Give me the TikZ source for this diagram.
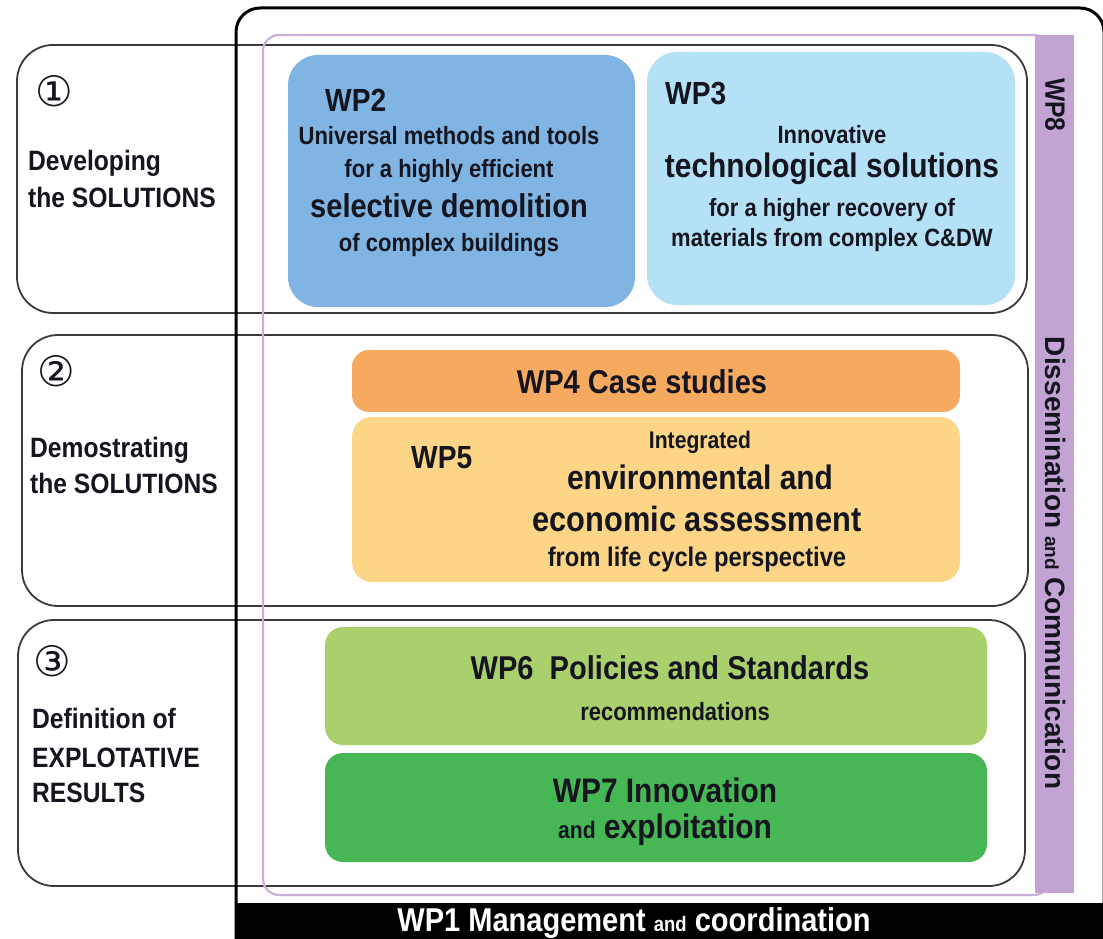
\documentclass[tikz,border=0pt]{standalone}
\usepackage{fontspec}
\setmainfont{Liberation Sans}[FakeStretch=0.88]
\newfontfamily\widefont{Liberation Sans}
\newfontfamily\circfont{DejaVu Sans}
\definecolor{wpB}{HTML}{80B4E3}
\definecolor{wpC}{HTML}{B5E1F6}
\definecolor{wpD}{HTML}{F5AA60}
\definecolor{wpE}{HTML}{FDD587}
\definecolor{wpF}{HTML}{A9D06C}
\definecolor{wpG}{HTML}{47B755}
\definecolor{wpH}{HTML}{C3A3D3}
\definecolor{purpline}{HTML}{C8B0DA}
\definecolor{rowline}{HTML}{3A3A3A}
\definecolor{txt}{HTML}{15151F}
\newcommand\fsz[1]{\fontsize{#1}{#1}\selectfont}
\tikzset{
  rowbox/.style={draw=rowline, line width=1.8pt, rounded corners=36pt, inner sep=0pt},
  wpbox/.style={draw=none, inner sep=0pt, rounded corners=#1},
  wpbox/.default=18pt,
  tx/.style={anchor=base, inner sep=0pt, text=txt, font=\bfseries},
  lbl/.style={anchor=base west, inner sep=0pt, text=txt, font=\bfseries\fsz{28}},
  circ/.style={inner sep=0pt, text=txt, font=\circfont\fsz{42}},
}
\begin{document}
\begin{tikzpicture}[x=1pt,y=-1pt]
\useasboundingbox (0,0) rectangle (1103,939);
\clip (0,0) rectangle (1103,939);
\fill[white] (0,0) rectangle (1103,939);

% row outlines
\node[rowbox, minimum width=1010pt, minimum height=268pt] (row1) at (522,179) {};
\node[rowbox, minimum width=1006pt, minimum height=271pt] (row2) at (525,470.5) {};
\node[rowbox, minimum width=1007pt, minimum height=266pt] (row3) at (521.5,753) {};

% black frame (WP1)
\draw[black, line width=3pt, rounded corners=24pt] (236,8) rectangle (1104,980);
% purple frame
\draw[purpline, line width=2.2pt, rounded corners=16pt] (263,35) rectangle (1050,895);

% work package boxes
\node[wpbox=30pt, fill=wpB, minimum width=347pt, minimum height=252pt] (wp2) at (461.5,181) {};
\node[wpbox=30pt, fill=wpC, minimum width=368pt, minimum height=253pt] (wp3) at (831,178.5) {};
\node[wpbox=17pt, fill=wpD, minimum width=608pt, minimum height=62pt] (wp4) at (656,381) {};
\node[wpbox=20pt, fill=wpE, minimum width=608pt, minimum height=165pt] (wp5) at (656,499.5) {};
\node[wpbox=18pt, fill=wpF, minimum width=662pt, minimum height=118pt] (wp6) at (656,686) {};
\node[wpbox=18pt, fill=wpG, minimum width=662pt, minimum height=109pt] (wp7) at (656,807.5) {};

% WP8 bar
\node[fill=wpH, inner sep=0pt, minimum width=39pt, minimum height=858pt] (wp8) at (1054.5,464) {};
\node[rotate=-90, inner sep=0pt, text=txt, font=\bfseries\fsz{28}] (wp8t) at (1055,105) {WP8};
\node[rotate=-90, inner sep=0pt, text=txt, font=\widefont\bfseries\fsz{28}] (wp8d) at (1055,563)
  {Dissemination {\fsz{19}and} Communication};

% WP1 bar
\node[fill=black, inner sep=0pt, minimum width=867pt, minimum height=36pt] (wp1) at (669.5,921) {};
\node[tx, text=white, font=\bfseries\fsz{33}] (wp1t) at (634,931)
  {WP1 Management {\fsz{21}and} coordination};

% circled numbers
\node[circ] (c1) at (54,91) {①};
\node[circ] (c2) at (56,371) {②};
\node[circ] (c3) at (52,661) {③};

% left labels
\node[lbl] (l1a) at (28,171) {Developing};
\node[lbl] (l1b) at (28,207) {the SOLUTIONS};
\node[lbl] (l2a) at (30,457) {Demostrating};
\node[lbl] (l2b) at (30,493) {the SOLUTIONS};
\node[lbl] (l3a) at (32,728) {Definition of};
\node[lbl] (l3b) at (32,767) {EXPLOTATIVE};
\node[lbl] (l3c) at (32,802) {RESULTS};

% WP2 text
\node[tx, anchor=base west, font=\bfseries\fsz{32}] (wp2t) at (325,112) {WP2};
\node[tx, font=\bfseries\fsz{25}] (wp2a) at (449,145) {Universal methods and tools};
\node[tx, font=\bfseries\fsz{25}] (wp2b) at (449,177) {for a highly efficient};
\node[tx, font=\bfseries\fsz{33}] (wp2c) at (449,217) {selective demolition};
\node[tx, font=\bfseries\fsz{25}] (wp2d) at (449,251) {of complex buildings};

% WP3 text
\node[tx, anchor=base west, font=\bfseries\fsz{32}] (wp3t) at (665,105) {WP3};
\node[tx, font=\bfseries\fsz{25}] (wp3a) at (832,143) {Innovative};
\node[tx, font=\bfseries\fsz{34}] (wp3b) at (832,177) {technological solutions};
\node[tx, font=\bfseries\fsz{25}] (wp3c) at (832,216) {for a higher recovery of};
\node[tx, font=\bfseries\fsz{25}] (wp3d) at (832,246) {materials from complex C\&DW};

% WP4 / WP5 text
\node[tx, font=\bfseries\fsz{33}] (wp4t) at (642,393) {WP4 Case studies};
\node[tx, anchor=base west, font=\bfseries\fsz{32}] (wp5t) at (411,468) {WP5};
\node[tx, font=\bfseries\fsz{24}] (wp5a) at (700,448) {Integrated};
\node[tx, font=\bfseries\fsz{34}] (wp5b) at (700,489) {environmental and};
\node[tx, font=\bfseries\fsz{35}] (wp5c) at (697,531) {economic assessment};
\node[tx, font=\bfseries\fsz{27}] (wp5d) at (697,566) {from life cycle perspective};

% WP6 / WP7 text
\node[tx, font=\bfseries\fsz{33}] (wp6t) at (670,679) {WP6\ \ Policies and Standards};
\node[tx, font=\bfseries\fsz{25}] (wp6a) at (675,720) {recommendations};
\node[tx, font=\bfseries\fsz{34}] (wp7t) at (665,802) {WP7 Innovation};
\node[tx, font=\bfseries\fsz{34}] (wp7a) at (665,838) {{\fsz{24}and} exploitation};
\end{tikzpicture}
\end{document}
